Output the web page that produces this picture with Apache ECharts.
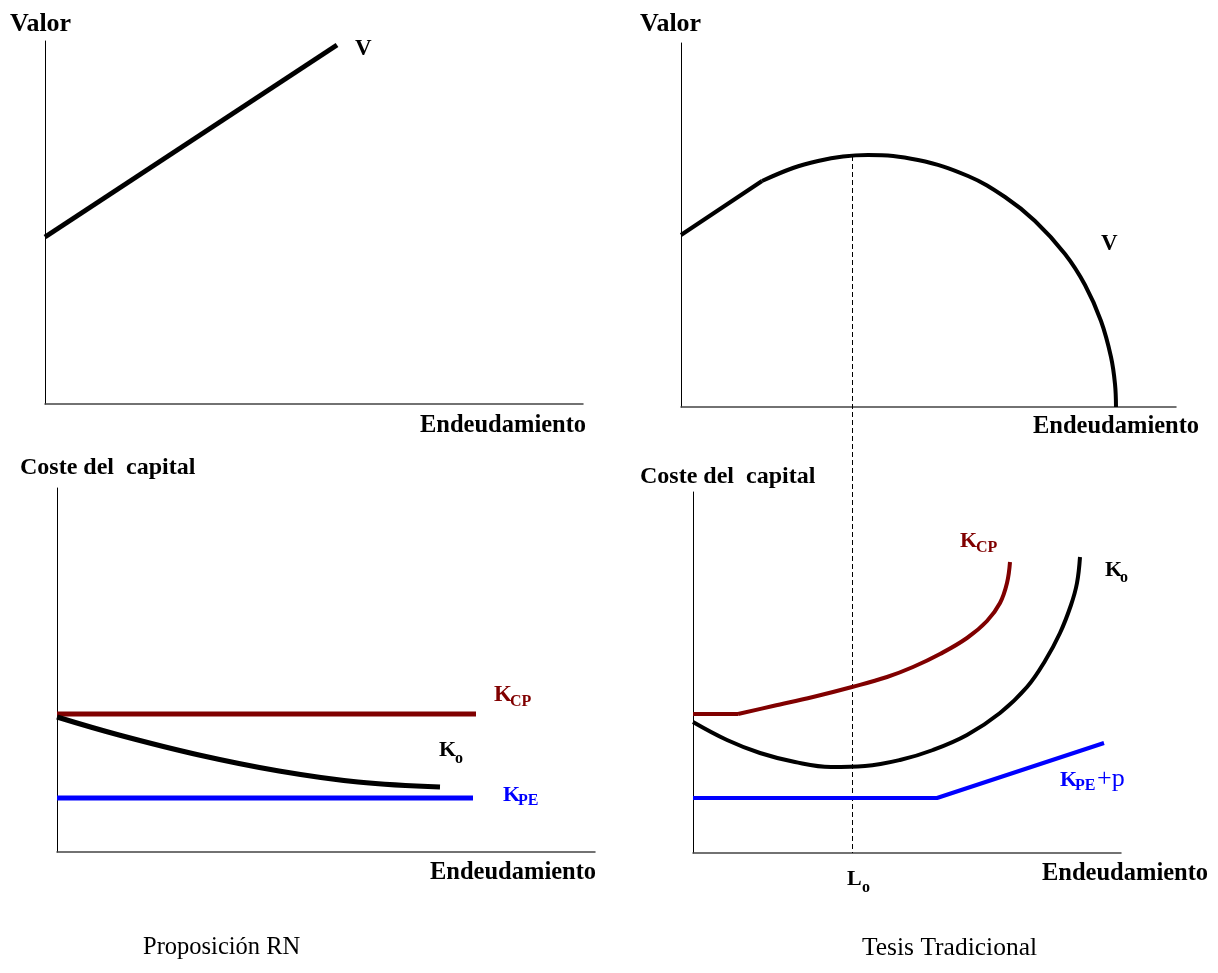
<!DOCTYPE html>
<html>
<head>
<meta charset="utf-8">
<script src="https://cdn.jsdelivr.net/npm/echarts@6/dist/echarts.min.js"></script>
<style>html,body{margin:0;padding:0;background:#fff}#c{width:1218px;height:973px}</style>
</head>
<body>
<div id="c"></div>
<script>
// ---- data (units measured along each panel's axes from the origin) ----
// Proposición RN – Valor
const vRN = [[0,167],[292,359]];
// Tesis Tradicional – Valor
const vTTline = [[0,172],[81,226]];
const vTTarc = [[81,226],[112,239],[137,246],[162,250.5],[187,252],[237,247],[287,231],[324,210],[354,186],[384,153],[404,122],[420,86],[430,50],[434,23],[435,0]];
const lOptimo = [[171.5,251],[171.5,-446]];
// Proposición RN – Coste del capital
const kcpRN = [[0,138],[419,138]];
const kpeRN = [[0,54],[416,54]];
const koRN = [[0,135],[62,117],[142,97],[222,81],[301,70],[383,65]];
// Tesis Tradicional – Coste del capital
const kcpTTflat = [[0,139],[45,139]];
const kcpTTcurve = [[45,139],[80,147],[120,156],[159,166],[194,176],[220,186],[247,199],[274,215],[294,232],[307,250],[314,270],[317,291]];
const koTT = [[0,131],[34,113],[67,100],[102,91],[138,86],[172,87],[207,93],[240,103],[274,118],[307,140],[334,166],[352,192],[367,220],[378,248],[384,270],[387,296]];
const kpeTT = [[0,55],[244,55],[411,110]];

const FONT = 'Liberation Serif';
const RED = '#800000', BLUE = '#0000ff', BLACK = '#000';

const grids = [
  {left:45, top:41, width:538, height:363},
  {left:681, top:43, width:495, height:364},
  {left:57, top:488, width:538, height:364},
  {left:693, top:492, width:428, height:361}
];

const xAxes = grids.map((g,i)=>({type:'value', gridIndex:i, min:0, max:g.width,
  axisLine:{show:true, onZero:false, lineStyle:{color:'#444', width:1.5}},
  axisTick:{show:false}, axisLabel:{show:false}, splitLine:{show:false}}));
const yAxes = grids.map((g,i)=>({type:'value', gridIndex:i, min:0, max:g.height,
  axisLine:{show:true, onZero:false, lineStyle:{color:'#000', width:1}},
  axisTick:{show:false}, axisLabel:{show:false}, splitLine:{show:false}}));

function line(data, gi, color, width, extra){
  return Object.assign({type:'line', data, xAxisIndex:gi, yAxisIndex:gi, symbol:'none',
    showSymbol:false, animation:false, silent:true,
    lineStyle:{color, width, cap:'butt', join:'round'}}, extra||{});
}

const series = [
  line(vRN, 0, BLACK, 5),
  line(vTTline, 1, BLACK, 4),
  line(vTTarc, 1, BLACK, 4, {smooth:0.4}),
  Object.assign(line(lOptimo, 1, BLACK, 1), {clip:false, lineStyle:{color:BLACK, width:1, type:[5,3]}}),
  line(kcpRN, 2, RED, 5),
  line(kpeRN, 2, BLUE, 5),
  line(koRN, 2, BLACK, 5, {smooth:0.4}),
  line(kcpTTflat, 3, RED, 4),
  line(kcpTTcurve, 3, RED, 4, {smooth:0.4}),
  line(koTT, 3, BLACK, 4, {smooth:0.4}),
  line(kpeTT, 3, BLUE, 4)
];

function t(x, y, text, size, color, weight){
  return {type:'text', x, y, silent:true, style:{text, fontFamily:FONT, fontSize:size,
    fontWeight:weight||'bold', fill:color||BLACK, align:'left', verticalAlign:'middle'}};
}

const graphic = [
  t(10, 24, 'Valor', 26),
  t(640, 24, 'Valor', 26),
  t(420, 426, 'Endeudamiento', 24.5),
  t(1033, 427, 'Endeudamiento', 24.5),
  t(20, 468, 'Coste del  capital', 24),
  t(640, 477, 'Coste del  capital', 24),
  t(430, 873, 'Endeudamiento', 24.5),
  t(1042, 874, 'Endeudamiento', 24.5),
  t(143, 948, 'Proposición RN', 24.5, BLACK, 'normal'),
  t(862, 948, 'Tesis Tradicional', 25.5, BLACK, 'normal'),
  t(355, 49, 'V', 23),
  t(1101, 244, 'V', 23),
  // K_CP (RN)
  t(494, 695, 'K', 23, RED), t(510, 702, 'CP', 16, RED),
  // K_o (RN)
  t(439, 750, 'K', 22), t(455, 759, 'o', 16),
  // K_PE (RN)
  t(503, 795, 'K', 22, BLUE), t(518, 801, 'PE', 16, BLUE),
  // K_CP (TT)
  t(960, 541, 'K', 22, RED), t(976, 548, 'CP', 16, RED),
  // K_o (TT)
  t(1105, 570, 'K', 22), t(1120, 578, 'o', 16),
  // K_PE+p (TT)
  t(1060, 780, 'K', 22, BLUE), t(1075, 786, 'PE', 16, BLUE), t(1097, 779, '+p', 26, BLUE, 'normal'),
  // L_o
  t(847, 879, 'L', 22), t(862, 888, 'o', 16)
];

const chart = echarts.init(document.getElementById('c'), null, {renderer:'canvas'});
chart.setOption({
  backgroundColor:'#fff',
  animation:false,
  grid:grids,
  xAxis:xAxes,
  yAxis:yAxes,
  series,
  graphic
});
</script>
</body>
</html>
